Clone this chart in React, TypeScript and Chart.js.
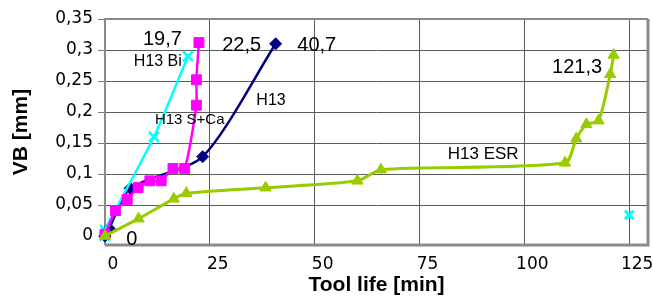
import React, { useEffect, useRef } from 'react';
import { Chart, registerables } from 'chart.js';

Chart.register(...registerables);

// ---- data ----
const h13X = [0, 1, 6, 23.3, 40.7];
const h13Y = [0, 0.012, 0.077, 0.128, 0.31];

const biX = [0, 0, 11.7, 19.8];
const biY = [0, 0.01, 0.16, 0.29];
const biOutlierX = [125];
const biOutlierY = [0.034];

const scaX = [0, 2.5, 5.3, 7.9, 10.7, 13.4, 16.2, 19, 21.8, 21.8, 22.4];
const scaY = [0.003, 0.041, 0.059, 0.078, 0.089, 0.089, 0.109, 0.109, 0.211, 0.252, 0.312];

const esrX = [0, 8, 16.4, 19.4, 38.3, 60.2, 65.8, 109.7, 112.4, 114.8, 117.7, 120.5, 121.3];
const esrY = [0, 0.028, 0.06, 0.069, 0.078, 0.089, 0.107, 0.118, 0.157, 0.18, 0.186, 0.261, 0.292];

const xTicks = [0, 25, 50, 75, 100, 125];
const yTicks = [0, 0.05, 0.1, 0.15, 0.2, 0.25, 0.3, 0.35];

// text annotations (text + anchor in data units)
const noteTexts = ['19,7', '22,5', '40,7', '121,3', '0', 'H13 Bi', 'H13', 'H13 S+Ca', 'H13 ESR'];
const noteX = [13.7, 32.6, 50.5, 112.6, 6.4, 12.6, 39.6, 20.2, 90.2];
const noteY = [0.308, 0.2976, 0.2976, 0.263, -0.0153, 0.274, 0.211, 0.18, 0.1237];
const noteSize = [20, 20, 20, 20, 20, 16, 16, 15, 17];

const zip = (xs: number[], ys: number[]) => xs.map((x, i) => ({ x, y: ys[i] }));
const fmt = (v: number) => String(v).replace('.', ',');

const FONT = '"Liberation Sans", Arial, sans-serif';

const framePlugin = {
  id: 'frame',
  beforeDatasetsDraw(chart: any) {
    const { ctx, chartArea: a } = chart;
    ctx.save();
    ctx.strokeStyle = '#8a8a8a';
    ctx.lineWidth = 2;
    ctx.beginPath();
    ctx.moveTo(a.left, a.bottom);
    ctx.lineTo(a.left, a.top);
    ctx.lineTo(a.right, a.top);
    ctx.stroke();
    ctx.lineWidth = 3;
    ctx.beginPath();
    ctx.moveTo(a.left, a.bottom);
    ctx.lineTo(a.right, a.bottom);
    ctx.lineTo(a.right, a.top);
    ctx.stroke();
    ctx.restore();
  },
};

const notesPlugin = {
  id: 'notes',
  afterDatasetsDraw(chart: any) {
    const { ctx, scales } = chart;
    ctx.save();
    ctx.fillStyle = '#000';
    ctx.textAlign = 'center';
    ctx.textBaseline = 'alphabetic';
    noteTexts.forEach((t, i) => {
      ctx.font = `${noteSize[i]}px ${FONT}`;
      ctx.fillText(t, scales.x.getPixelForValue(noteX[i]), scales.y.getPixelForValue(noteY[i]));
    });
    ctx.restore();
  },
};

export default function App() {
  const ref = useRef<HTMLCanvasElement | null>(null);

  useEffect(() => {
    if (!ref.current) return;
    const chart = new Chart(ref.current, {
      type: 'scatter',
      data: {
        datasets: [
          {
            label: 'H13 ESR',
            data: zip(esrX, esrY),
            showLine: true,
            borderColor: '#99CC00',
            backgroundColor: '#99CC00',
            borderWidth: 3,
            pointStyle: 'triangle',
            pointRadius: 6.5,
            pointBorderWidth: 1,
            tension: 0.25,
            clip: false,
          },
          {
            label: 'H13 S+Ca',
            data: zip(scaX, scaY),
            showLine: true,
            borderColor: '#FF00FF',
            backgroundColor: '#FF00FF',
            borderWidth: 2.5,
            pointStyle: 'rect',
            pointRadius: 7,
            pointBorderWidth: 1,
            tension: 0.2,
            clip: false,
          },
          {
            label: 'H13 Bi',
            data: zip(biX, biY),
            showLine: true,
            borderColor: '#00FFFF',
            backgroundColor: '#00FFFF',
            borderWidth: 2.5,
            pointStyle: 'crossRot',
            pointRadius: 7,
            pointBorderWidth: 2.5,
            tension: 0.2,
            clip: false,
          },
          {
            label: 'H13 Bi extra',
            data: zip(biOutlierX, biOutlierY),
            showLine: false,
            borderColor: '#00FFFF',
            backgroundColor: '#00FFFF',
            pointStyle: 'crossRot',
            pointRadius: 6,
            pointBorderWidth: 3,
            clip: false,
          },
          {
            label: 'H13',
            data: zip(h13X, h13Y),
            showLine: true,
            borderColor: '#000080',
            backgroundColor: '#000080',
            borderWidth: 2.5,
            pointStyle: 'rectRot',
            pointRadius: 6,
            pointBorderWidth: 1,
            tension: 0.25,
            clip: false,
          },
        ],
      },
      options: {
        responsive: false,
        animation: false,
        layout: { autoPadding: false, padding: { top: 19, right: 5, left: 0, bottom: 0 } },
        plugins: { legend: { display: false }, tooltip: { enabled: false } },
        scales: {
          x: {
            type: 'linear',
            min: 0,
            max: 129.5,
            afterBuildTicks: (s: any) => {
              s.ticks = xTicks.map((v) => ({ value: v }));
            },
            afterFit: (s: any) => {
              s.height = 61;
              s.paddingLeft = 0;
              s.paddingRight = 0;
            },
            ticks: {
              labelOffset: 8,
              padding: 9,
              color: '#000',
              font: { family: '"DejaVu Sans", sans-serif', size: 17 },
              callback: (v: any) => fmt(Number(v)),
            },
            grid: { color: '#5a5a5a', lineWidth: 1, drawTicks: false },
            border: { display: false },
            title: {
              display: true,
              text: 'Tool life [min]',
              color: '#000',
              font: { family: FONT, size: 21, weight: 'bold' },
              padding: { top: 0, bottom: 8 },
            },
          },
          y: {
            type: 'linear',
            min: -0.0145,
            max: 0.35,
            afterBuildTicks: (s: any) => {
              s.ticks = yTicks.map((v) => ({ value: v }));
            },
            afterFit: (s: any) => {
              s.width = 105;
              s.paddingTop = 0;
              s.paddingBottom = 0;
            },
            ticks: {
              padding: 5,
              color: '#000',
              font: { family: '"DejaVu Sans", sans-serif', size: 17 },
              callback: (v: any) => fmt(Number(v)),
            },
            grid: {
              color: (c: any) => (c.tick && c.tick.value === 0 ? 'rgba(0,0,0,0)' : '#5a5a5a'),
              tickColor: '#7a7a7a',
              tickLength: 7,
              lineWidth: 1,
            },
            border: { display: false },
            title: {
              display: true,
              text: 'VB [mm]',
              color: '#000',
              font: { family: FONT, size: 21, weight: 'bold' },
              padding: { top: 9, bottom: 0 },
            },
          },
        },
      },
      plugins: [framePlugin, notesPlugin],
    } as any);
    return () => chart.destroy();
  }, []);

  return (
    <div style={{ position: 'absolute', left: 0, top: 0, width: 653, height: 306, background: '#fff' }}>
      <canvas ref={ref} width={653} height={306} />
    </div>
  );
}
